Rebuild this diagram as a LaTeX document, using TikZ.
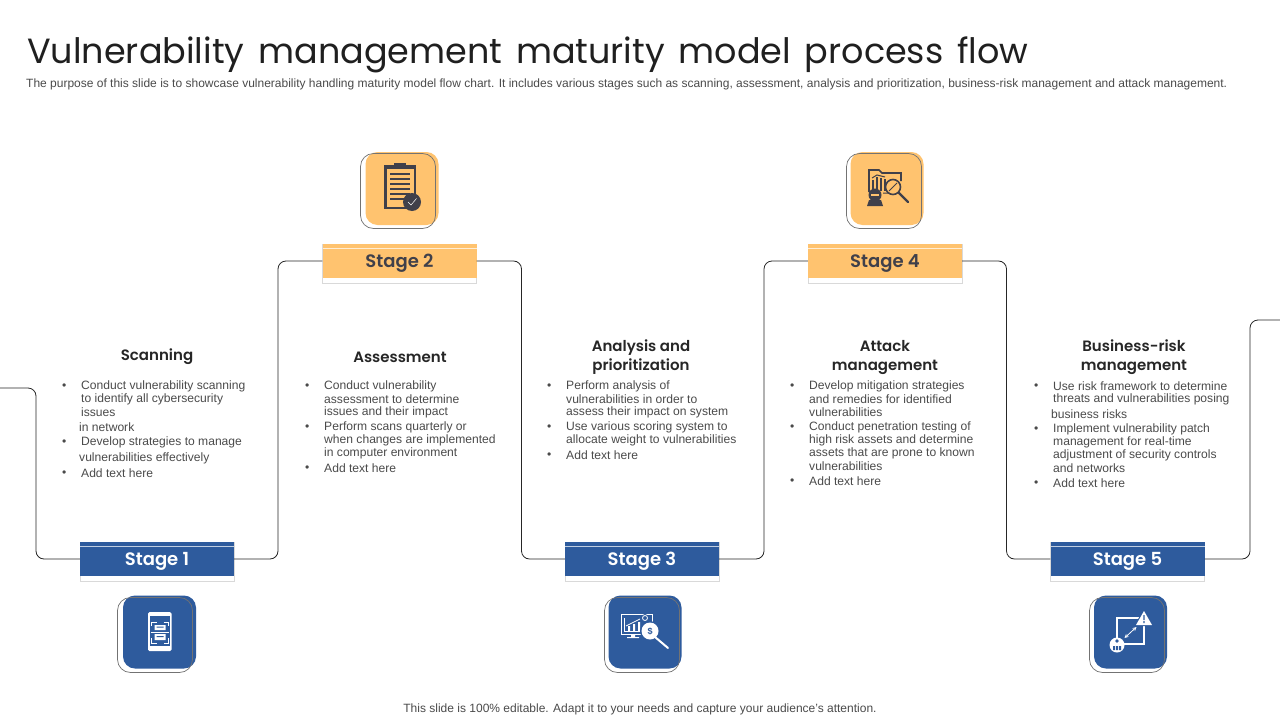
\documentclass[tikz,border=0pt]{standalone}
\usepackage{fontspec}
\setmainfont{Liberation Sans}
\newfontfamily\gothic[WordSpace=1.47]{Poppins}
\newfontfamily\gothicmed{Poppins SemiBold}
\definecolor{bluebar}{HTML}{2E5B9D}
\definecolor{orangebar}{HTML}{FFC36F}
\definecolor{inkdark}{HTML}{40404A}
\definecolor{textgray}{HTML}{4A4A4A}
\tikzset{
  bodytext/.style={anchor=west,inner sep=0pt,text=textgray,font=\fontsize{12.1}{13}\selectfont},
  headtext/.style={inner sep=0pt,align=center,text=black!85,font=\gothicmed\fontsize{15}{19}\selectfont},
  stagebar/.style={minimum width=154pt,minimum height=33pt,inner sep=0pt},
  stagelabel/.style={inner sep=0pt,font=\gothicmed\fontsize{18}{20}\selectfont},
  conn/.style={rounded corners=8pt,line width=0.8pt,black!85},
  tile/.style={minimum size=73pt,inner sep=0pt,rounded corners=12pt},
  ring/.style={minimum size=75pt,inner sep=0pt,rounded corners=13pt,draw=black!55,line width=0.7pt}
}
\begin{document}
\begin{tikzpicture}[x=1pt,y=-1pt]
\useasboundingbox (0,0) rectangle (1280,720);
% heading
\node[anchor=west,inner sep=0pt,text=black!88,font=\gothic\fontsize{35}{40}\selectfont] (title) at (27,54.5) {Vulnerability management maturity model process flow};
\node[anchor=west,inner sep=0pt,text=textgray,font=\fontsize{12}{13}\selectfont] (subtitle) at (26,84) {The purpose of this slide is to showcase vulnerability handling maturity model flow chart. It includes various stages such as scanning, assessment, analysis and prioritization, business-risk management and attack management.};
\node[inner sep=0pt,text=textgray,font=\fontsize{12}{13}\selectfont] (footer) at (640,709) {This slide is 100\% editable. Adapt it to your needs and capture your audience's attention.};
% stage bars
\foreach \n/\x/\y/\k/\tc in {1/157/559/bluebar/white,2/399.5/261/orangebar/inkdark,3/642/559/bluebar/white,4/885/261/orangebar/inkdark,5/1127.5/559/bluebar/white}{
  \draw[black!15,fill=white] (\x-77,\y-17) rectangle (\x+77,\y+22);
  \node[stagebar,fill=\k] (stage\n) at (\x,\y) {};
  \fill[\k] (\x-77,\y-17) rectangle (\x+77,\y-13);
  \draw[white,opacity=0.7,line width=0.6pt] (\x-77,\y-13) -- (\x+77,\y-13);
  \node[stagelabel,text=\tc] (label\n) at (\x,\y+2) {Stage \n};
}
% connectors
\coordinate (leftend) at (0,388);
\coordinate (rightend) at (1280,320);
\coordinate (turna) at (36,450);
\coordinate (turnb) at (278,400);
\coordinate (turnc) at (521.5,400);
\coordinate (turnd) at (764,400);
\coordinate (turne) at (1006.5,400);
\coordinate (turnf) at (1250,450);
\draw[conn] (leftend) -| (turna) |- (stage1.west);
\draw[conn] (stage1.east) -| (turnb) |- (stage2.west);
\draw[conn] (stage2.east) -| (turnc) |- (stage3.west);
\draw[conn] (stage3.east) -| (turnd) |- (stage4.west);
\draw[conn] (stage4.east) -| (turne) |- (stage5.west);
\draw[conn] (stage5.east) -| (turnf) |- (rightend);
% icon tiles
\foreach \n/\x/\y/\k/\rx/\ry in {a/159.5/632/bluebar/155/635,b/402/188.5/orangebar/398/191,c/645/632/bluebar/642/635,d/887/188.5/orangebar/884/191,e/1130.5/632/bluebar/1127/635}{
  \node[tile,fill=\k] (tile\n) at (\x,\y) {};
  \node[ring] (ring\n) at (\rx,\ry) {};
}
% phone
\begin{scope}[shift={(159.5,632)}]
\fill[white,rounded corners=1.5pt] (-11.5,-20) rectangle (12,19);
\fill[bluebar] (-9.5,-16) rectangle (10,14);
\draw[white,line width=0.7pt] (-8,-6) |- (-3,-10) (4,-10) -| (8.5,-6) (8.5,6) |- (4,11) (-3,11) -| (-8,6) (-9,0) -- (9.5,0);
\fill[white] (-5,-7) rectangle (6,-2) (-5,2) rectangle (6,8);
\fill[bluebar] (-3,-5.5) rectangle (4,-4.5) (-3,4) rectangle (4,5);
\end{scope}
% clipboard
\begin{scope}[shift={(400,187)}]
\fill[inkdark] (-16,-22) rectangle (16,22);
\fill[orangebar] (-13.5,-18) rectangle (13.5,19.5);
\fill[inkdark] (-6,-24) rectangle (6,-20);
\foreach \y in {-13,-8,-3,2,7,12}
  \draw[inkdark,line width=1.4pt] (-10,\y) -- (10,\y);
\fill[inkdark] (12,15) circle (9);
\draw[white,line width=0.5pt] (8,15) -- (11,18) -- (16.5,11.5);
\end{scope}
% monitor and magnifier
\begin{scope}[shift={(645,632)}]
\draw[white,line width=0.9pt] (-24,-18) rectangle (7,2);
\draw[white,line width=0.7pt] (-21,-14) |- (0,-1);
\fill[white] (-17,-1) rectangle (-15,-6) (-12,-1) rectangle (-10,-8) (-7,-1) rectangle (-5,-10);
\draw[white,line width=0.7pt] (-19,-6) -- (-11,-10) -- (-5,-13);
\fill[white] (-14,3) rectangle (-10,5) (-18,5) rectangle (-6,6);
\fill[bluebar] (0,-14) circle (4);
\draw[white,line width=0.8pt] (0,-14) circle (2.5);
\fill[bluebar] (5,-1) circle (10);
\fill[white] (5,-1) circle (8.5);
\draw[white,line width=2pt,line cap=round] (10,5) -- (23,16);
\node[inner sep=0pt,text=bluebar,font=\bfseries\fontsize{9}{9}\selectfont] (dollar) at (5,-1) {\$};
\end{scope}
% folder, hooded figure and magnifier
\begin{scope}[shift={(887,188)}]
\draw[inkdark,line width=1.6pt] (-18,4) -- (-18,-18) -- (-8,-18) -- (-5,-15) -- (14,-15) -- (14,-7);
\draw[inkdark,line width=1.2pt] (-14,-8) -- (-14,3) (-10,-11) -- (-10,3) (-6,-10) -- (-6,3) (-2,-9) -- (-2,3);
\draw[inkdark,line width=1pt] (-15,-10) -- (-10,-13) -- (-2,-11) (-4,5) -- (4,5);
\fill[inkdark] (-12,7) circle (6.5);
\fill[inkdark] (-20,18) -- (-18,12) -- (-6,12) -- (-4,18) -- cycle;
\fill[orangebar] (-16,6) rectangle (-8,8);
\fill[orangebar] (6,-1) circle (7.5);
\draw[inkdark,line width=1.6pt] (6,-1) circle (7.5);
\draw[inkdark,line width=0.9pt] (2,3) -- (10,-5);
\draw[inkdark,line width=2.2pt,line cap=round] (12,5) -- (21,14);
\end{scope}
% risk square
\begin{scope}[shift={(1130.5,632)}]
\draw[white,line width=1.2pt] (-13.5,-14) rectangle (13.5,12);
\fill[bluebar] (13.5,-23) -- (3.5,-6) -- (23.5,-6) -- cycle;
\fill[white] (13.5,-21) -- (5.5,-7) -- (21.5,-7) -- cycle;
\fill[bluebar] (12.8,-17) rectangle (14.2,-12) (12.8,-11) rectangle (14.2,-9);
\fill[white] (-13.5,13) circle (7.5);
\fill[bluebar] (-17.5,14) rectangle (-15.5,18) (-14.5,14) rectangle (-12.5,18) (-11.5,14) rectangle (-9.5,18);
\fill[bluebar] (-13.5,9) circle (1.8);
\draw[white,line width=0.8pt,<->,>=stealth] (-6,6) -- (6,-5);
\end{scope}
% column headings
\node[headtext] (scanhead) at (157,357) {Scanning};
\node[headtext] (assesshead) at (400,357) {Assessment};
\node[headtext] (analysishead) at (641,357.5) {Analysis and\\prioritization};
\node[headtext] (attackhead) at (885,357.5) {Attack\\management};
\node[headtext] (riskhead) at (1134,357.5) {Business-risk\\management};
% column text
\foreach \x/\y/\t [count=\i] in {81/386/Conduct vulnerability scanning,81/399/to identify all cybersecurity,81/412/issues,79/427/in network,81/442/Develop strategies to manage,79/458/vulnerabilities effectively,81/473/Add text here}
  \node[bodytext] (scan\i) at (\x,\y) {\t};
\foreach \x/\y/\t [count=\i] in {324/386/Conduct vulnerability,324/399/assessment to determine,324/412/issues and their impact,324/427/Perform scans quarterly or,324/440/when changes are implemented,324/453/in computer environment,324/468/Add text here}
  \node[bodytext] (assess\i) at (\x,\y) {\t};
\foreach \x/\y/\t [count=\i] in {566/386/Perform analysis of,566/399/vulnerabilities in order to,566/412/assess their impact on system,566/427/Use various scoring system to,566/440/allocate weight to vulnerabilities,566/455/Add text here}
  \node[bodytext] (analysis\i) at (\x,\y) {\t};
\foreach \x/\y/\t [count=\i] in {809/386/Develop mitigation strategies,809/399/and remedies for identified,809/412/vulnerabilities,809/427/Conduct penetration testing of,809/440/high risk assets and determine,809/453/assets that are prone to known,809/466/vulnerabilities,809/481/Add text here}
  \node[bodytext] (attack\i) at (\x,\y) {\t};
\foreach \x/\y/\t [count=\i] in {1053/386/Use risk framework to determine,1053/399/threats and vulnerabilities posing,1051/414/business risks,1053/429/Implement vulnerability patch,1053/442/management for real-time,1053/455/adjustment of security controls,1053/468/and networks,1053/483/Add text here}
  \node[bodytext] (risk\i) at (\x,\y) {\t};
% bullets
\foreach \x/\y [count=\i] in {62/387,62/443,62/474,305/387,305/428,305/469,547/387,547/428,547/456,790/387,790/428,790/482,1034/387,1034/430,1034/484}
  \node[bodytext] (dot\i) at (\x,\y) {•};
\end{tikzpicture}
\end{document}
